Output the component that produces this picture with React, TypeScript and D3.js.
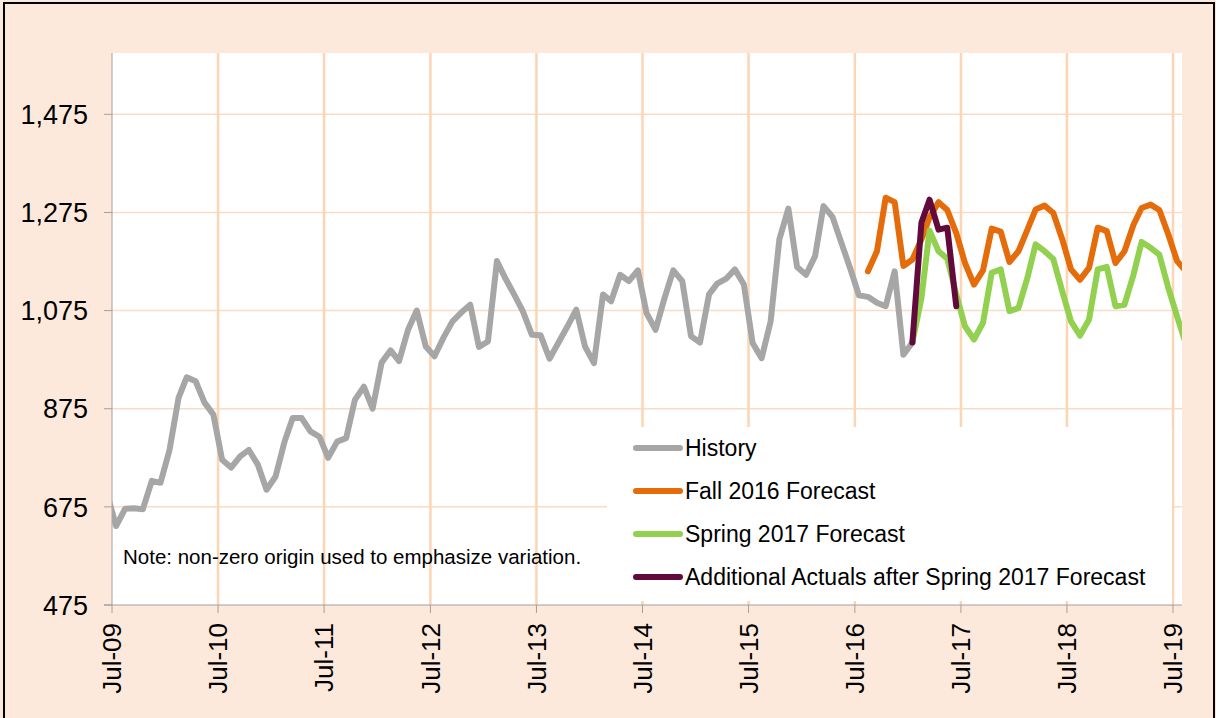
import React from 'react';
import * as d3 from 'd3';

// monthly values, history starts Jun-09, forecasts as noted
const historyStart = [2009, 5];
const history = [
  700, 636, 671, 672, 670, 728, 724,
  791, 897, 939, 931, 888, 863, 771, 755, 778, 791, 761, 710,
  737, 808, 856, 856, 829, 818, 775, 808, 815, 893, 920, 875,
  969, 994, 972, 1036, 1075, 1002, 982, 1020, 1053, 1071, 1087, 1001,
  1012, 1176, 1142, 1108, 1074, 1026, 1025, 977, 1010, 1042, 1077, 1002,
  968, 1108, 1094, 1148, 1135, 1157, 1070, 1036, 1101, 1157, 1135, 1023,
  1010, 1108, 1130, 1140, 1159, 1128, 1009, 978, 1053, 1220, 1283, 1164,
  1148, 1186, 1288, 1266, 1214, 1161, 1106, 1103, 1091, 1084, 1155, 985,
  1010,
];

const fallStart = [2016, 7];
const fall2016 = [
  1155, 1196, 1305, 1296, 1166,
  1179, 1220, 1265, 1296, 1280, 1233, 1172, 1128, 1157, 1242, 1236, 1174,
  1196, 1240, 1281, 1289, 1274, 1220, 1159, 1138, 1162, 1244, 1237, 1172,
  1196, 1250, 1284, 1291, 1280, 1230, 1176, 1155,
];

const springStart = [2017, 0];
const spring2017 = [
  1010, 1100, 1238, 1196, 1181, 1108, 1043, 1016, 1050, 1152, 1159, 1074,
  1080, 1142, 1210, 1196, 1180, 1114, 1053, 1024, 1057, 1159, 1164, 1084,
  1087, 1148, 1215, 1203, 1189, 1121, 1063, 1006,
];

const actualsStart = [2017, 0];
const additionalActuals = [1010, 1254, 1301, 1240, 1244, 1084];

const yTicks = [475, 675, 875, 1075, 1275, 1475];
const xTickYears = [2009, 2010, 2011, 2012, 2013, 2014, 2015, 2016, 2017, 2018, 2019];

const seriesNames = [
  'History',
  'Fall 2016 Forecast',
  'Spring 2017 Forecast',
  'Additional Actuals after Spring 2017 Forecast',
];
const seriesColors = ['#a6a6a6', '#e46c0a', '#92d050', '#630a3c'];

const W = 1216;
const H = 718;
const left = 112, right = 1182, top = 53, bottom = 605;

const toPoints = (start: number[], vals: number[]) =>
  vals.map((v, i) => ({ date: new Date(start[0], start[1] + i, 15), v }));

const App = () => {
  const x = d3.scaleTime()
    .domain([new Date(2009, 6, 1), new Date(2019, 7, 1)])
    .range([left, right]);
  const y = d3.scaleLinear().domain([475, 1600]).range([bottom, top]);

  const line = d3.line<{ date: Date; v: number }>()
    .x((d) => x(d.date))
    .y((d) => y(d.v));

  const series = [
    toPoints(historyStart, history),
    toPoints(fallStart, fall2016),
    toPoints(springStart, spring2017),
    toPoints(actualsStart, additionalActuals),
  ];

  const fmt = d3.format(',');
  const font = '"Liberation Sans", Arial, sans-serif';

  return (
    <svg width={W} height={H} style={{ display: 'block' }}>
      <style>{'body{margin:0}'}</style>
      <defs>
        <clipPath id="plotClip">
          <rect x={left} y={top} width={right - left} height={bottom - top} />
        </clipPath>
      </defs>
      <rect x={0} y={0} width={W} height={H} fill="#fde9db" />
      <rect x={4} y={3} width={W - 6} height={H} fill="none" stroke="#000" strokeWidth={2} />
      <rect x={left} y={top} width={right - left} height={bottom - top} fill="#fff" />

      {yTicks.slice(1).map((t) => (
        <line key={'h' + t} x1={left} x2={right} y1={y(t)} y2={y(t)} stroke="#fadcc6" strokeWidth={1.5} />
      ))}
      {xTickYears.slice(1).map((yr) => {
        const xx = x(new Date(yr, 6, 1));
        return <line key={'v' + yr} x1={xx} x2={xx} y1={top} y2={bottom} stroke="#fcd5b4" strokeWidth={2.5} />;
      })}

      {/* axes */}
      <line x1={left} x2={left} y1={top} y2={bottom} stroke="#a0a0a0" strokeWidth={1} />
      <line x1={left - 8} x2={right} y1={bottom} y2={bottom} stroke="#a0a0a0" strokeWidth={1} />
      {yTicks.map((t) => (
        <g key={'yt' + t}>
          <line x1={left - 8} x2={left} y1={y(t)} y2={y(t)} stroke="#a0a0a0" />
          <text x={88} y={y(t)} dy="0.36em" textAnchor="end" fontFamily={font} fontSize={27} fill="#000">
            {fmt(t)}
          </text>
        </g>
      ))}
      {xTickYears.map((yr) => {
        const xx = x(new Date(yr, 6, 1));
        return (
          <g key={'xt' + yr}>
            <line x1={xx} x2={xx} y1={bottom} y2={bottom + 8} stroke="#a0a0a0" />
            <text
              transform={`translate(${xx},${bottom + 18}) rotate(-90)`}
              dy="0.36em"
              textAnchor="end"
              fontFamily={font}
              fontSize={26}
              fill="#000"
            >
              {d3.timeFormat('Jul-%y')(new Date(yr, 6, 1))}
            </text>
          </g>
        );
      })}

      {/* note */}
      <text x={123} y={564} fontFamily={font} fontSize={20.5} fill="#000">
        Note: non-zero origin used to emphasize variation.
      </text>

      {/* legend box */}
      <rect x={607} y={427} width={565} height={174} fill="#fff" />

      <g clipPath="url(#plotClip)">
        {series.map((s, i) => (
          <path
            key={'s' + i}
            d={line(s) || ''}
            fill="none"
            stroke={seriesColors[i]}
            strokeWidth={6}
            strokeLinejoin="round"
            strokeLinecap="round"
          />
        ))}
      </g>

      {seriesNames.map((name, i) => {
        const ly = 448 + i * 43;
        return (
          <g key={'lg' + i}>
            <line x1={636} x2={680} y1={ly} y2={ly} stroke={seriesColors[i]} strokeWidth={6} strokeLinecap="round" />
            <text x={685} y={ly} dy="0.36em" fontFamily={font} fontSize={23} fill="#000">
              {name}
            </text>
          </g>
        );
      })}
    </svg>
  );
};

export default App;
